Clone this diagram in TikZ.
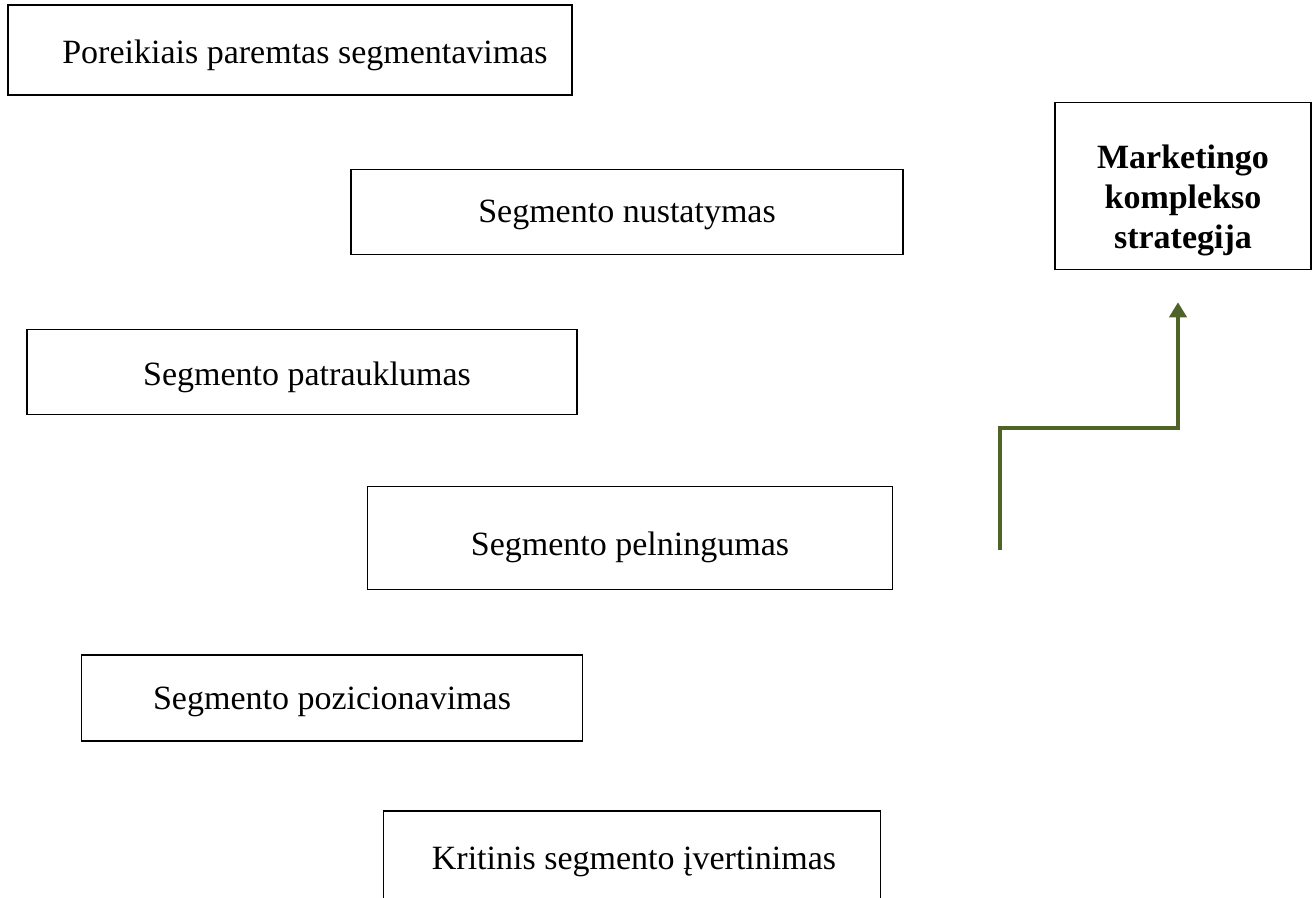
\documentclass[tikz,border=0pt]{standalone}
\usepackage{fontspec}
\setmainfont{Liberation Serif}
\usetikzlibrary{arrows.meta,positioning}

\definecolor{olivegreen}{HTML}{4F6228}
\tikzset{
	stepbox/.style={draw, line width=1.5pt, inner sep=0pt, text depth=7.4pt, font=\fontsize{34}{40}\selectfont},
	mixbox/.style={draw, line width=1.5pt, inner sep=0pt, align=center, font=\fontsize{34}{40}\selectfont\bfseries},
	greenarrow/.style={draw=olivegreen, line width=4pt, -{Triangle[width=17pt,length=15pt]}}
}

\begin{document}
\begin{tikzpicture}[x=1pt, y=-1pt]
	\useasboundingbox (0,0) rectangle (1316,897);

			\node[stepbox, text height=35.2pt, minimum width=564pt, minimum height=90pt] (poreik) at (290, 50) {\hspace{30pt}Poreikiais paremtas segmentavimas};
			\node[stepbox, text height=29.2pt, minimum width=552pt, minimum height=85pt] (nustat) at (627, 212) {Segmento nustatymas};
			\node[stepbox, text height=35.2pt, minimum width=550pt, minimum height=85pt] (patrauk) at (302, 372) {\hspace{10pt}Segmento patrauklumas};
			\node[stepbox, text height=43.2pt, minimum width=525pt, minimum height=103pt] (peln) at (630, 538) {Segmento pelningumas};
			\node[stepbox, text height=31.2pt, minimum width=501pt, minimum height=86pt] (pozic) at (332, 698) {Segmento pozicionavimas};
			\node[stepbox, minimum width=497pt, minimum height=110pt] (kritin) at (632, 866) {};
			\node[font=\fontsize{34}{40}\selectfont] (kritintext) at (634, 862) {Kritinis segmento įvertinimas};
			\node[mixbox, minimum width=256pt, minimum height=167pt] (marketing) at (1183, 186) {\rule{0pt}{53pt}Marketingo\\komplekso\\strategija};

			\coordinate (arrowstart) at (1000, 550);
			\coordinate (arrowturn) at (1000, 428);

			\draw [greenarrow, shorten >=32pt] (arrowstart) -- (arrowturn) -| ([xshift=-5pt]marketing.south);
	\end{tikzpicture}
\end{document}
